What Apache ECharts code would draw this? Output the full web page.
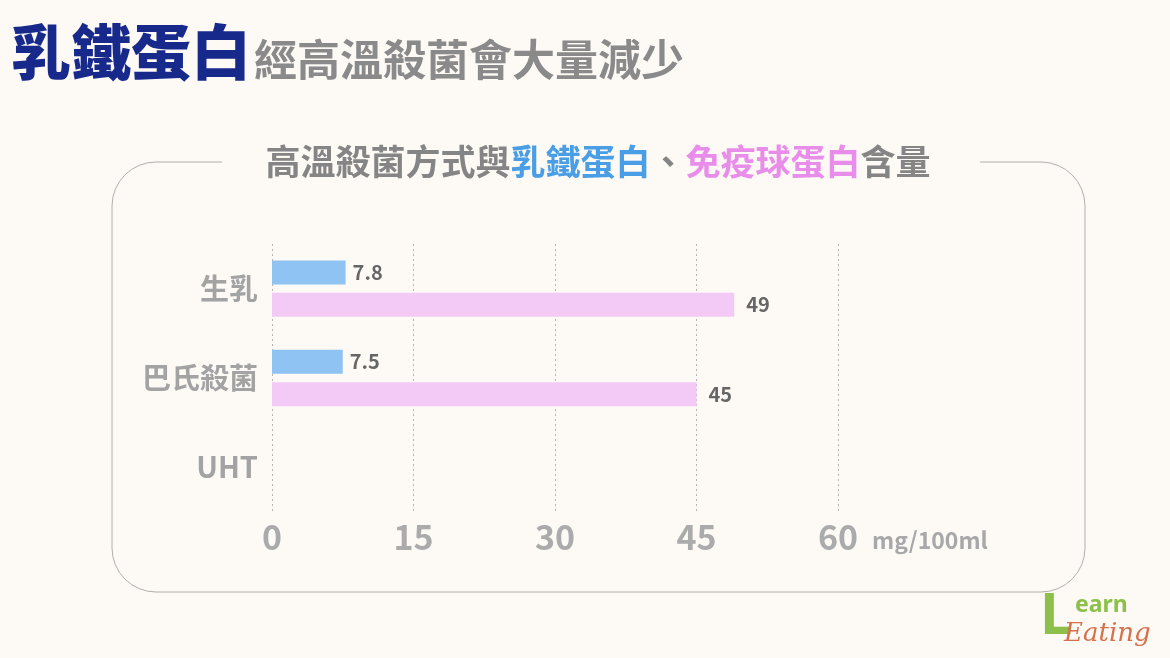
<!DOCTYPE html>
<html>
<head>
<meta charset="utf-8">
<script src="https://cdn.jsdelivr.net/npm/echarts@6/dist/echarts.min.js"></script>
<style>
html,body{margin:0;padding:0;background:#fdf9f5;}
#main{width:1170px;height:658px;}
</style>
</head>
<body>
<div id="main"></div>
<script>
var categories = ['生乳', '巴氏殺菌', 'UHT'];
var lactoferrin = [7.8, 7.5, null];
var immunoglobulin = [49, 45, null];
var xTicks = [0, 15, 30, 45, 60];
var unitLabel = 'mg/100ml';

var FONT = '"Noto Sans CJK TC", "Noto Sans CJK SC", sans-serif';
var BG = '#fdf9f5';
var chart = echarts.init(document.getElementById('main'));

var option = {
  backgroundColor: BG,
  animation: false,
  grid: { left: 272, right: 332, top: 244, height: 268 },
  xAxis: {
    type: 'value', min: xTicks[0], max: xTicks[xTicks.length - 1], interval: 15,
    axisLine: { show: false }, axisTick: { show: false },
    splitLine: { show: true, lineStyle: { color: '#b5b5b5', type: [2, 3], width: 1 } },
    axisLabel: { color: '#ababab', fontSize: 34, fontWeight: 'bold', fontFamily: FONT, margin: 8 }
  },
  yAxis: {
    type: 'category', data: categories, inverse: true,
    axisLine: { show: false }, axisTick: { show: false },
    axisLabel: { color: '#a3a3a3', fontSize: 29, fontWeight: 'bold', fontFamily: FONT, margin: 14 }
  },
  series: [
    {
      type: 'bar', name: '乳鐵蛋白', data: lactoferrin, barWidth: 24, barGap: '35%',
      itemStyle: { color: '#8ec3f3' },
      label: { show: true, position: 'right', distance: 7, color: '#666', fontSize: 20, fontWeight: 'bold', fontFamily: FONT }
    },
    {
      type: 'bar', name: '免疫球蛋白', data: immunoglobulin, barWidth: 24,
      itemStyle: { color: '#f3c9f6' },
      label: { show: true, position: 'right', distance: 12, color: '#666', fontSize: 20, fontWeight: 'bold', fontFamily: FONT }
    }
  ],
  graphic: [
    { type: 'rect', z: -1, shape: { x: 112, y: 162, width: 973, height: 430, r: 44 },
      style: { fill: 'none', stroke: '#b0b0b0', lineWidth: 1 } },
    { type: 'rect', z: 0, shape: { x: 222, y: 150, width: 758, height: 25 }, style: { fill: BG } },
    { type: 'text', x: 598, y: 162, z: 1,
      style: {
        text: '{g|高溫殺菌方式與}{b|乳鐵蛋白}{g|、}{p|免疫球蛋白}{g|含量}',
        align: 'center', verticalAlign: 'middle',
        rich: {
          g: { fill: '#858585', fontSize: 35, fontWeight: 'bold', fontFamily: FONT },
          b: { fill: '#4a9ee6', fontSize: 35, fontWeight: 'bold', fontFamily: FONT },
          p: { fill: '#e88de9', fontSize: 35, fontWeight: 'bold', fontFamily: FONT }
        }
      } },
    { type: 'text', x: 11, y: 52,
      style: { text: '乳鐵蛋白', fill: '#172a8c', fontSize: 60, fontWeight: 900, fontFamily: FONT, verticalAlign: 'middle' } },
    { type: 'text', x: 254, y: 60,
      style: { text: '經高溫殺菌會大量減少', fill: '#8a8a8a', fontSize: 43, fontWeight: 'bold', fontFamily: FONT, verticalAlign: 'middle' } },
    { type: 'text', x: 872, y: 540,
      style: { text: unitLabel, fill: '#a8a8a8', fontSize: 23, fontWeight: 'bold', fontFamily: FONT, verticalAlign: 'middle' } },
    { type: 'text', x: 1040, y: 617,
      style: { text: 'L', fill: '#8cc04a', fontSize: 58, fontWeight: 'bold', fontFamily: 'Noto Sans, sans-serif', verticalAlign: 'middle' } },
    { type: 'text', x: 1075, y: 605,
      style: { text: 'earn', fill: '#8cc04a', fontSize: 23, fontWeight: 'bold', fontFamily: 'Noto Sans, sans-serif', verticalAlign: 'middle' } },
    { type: 'text', x: 1064, y: 634,
      style: { text: 'Eating', fill: '#d6714e', fontSize: 26, fontStyle: 'italic', fontFamily: '"DejaVu Serif", serif', verticalAlign: 'middle' } }
  ]
};
chart.setOption(option);
</script>
</body>
</html>
